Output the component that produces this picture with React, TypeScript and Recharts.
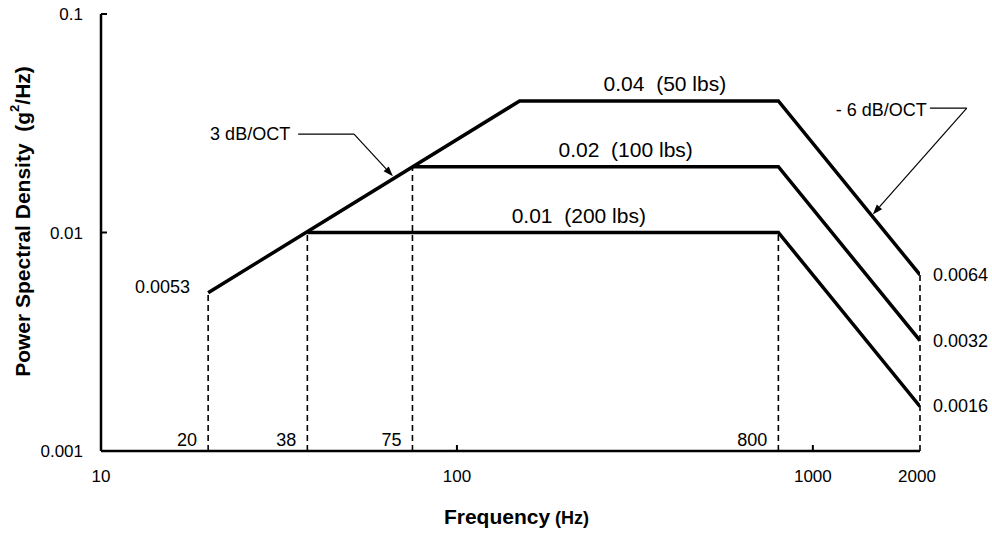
import React from "react";
import { LineChart, Line, XAxis, YAxis, ReferenceLine, ReferenceDot } from "recharts";

const FONT = '"Liberation Sans", Arial, Helvetica, sans-serif';

const xTicks = [10, 100, 1000, 2000];
const yTicks = [0.001, 0.01, 0.1];

// PSD profiles (Hz, g^2/Hz)
const load50 = [
  { f: 20, psd: 0.0053 },
  { f: 150, psd: 0.04 },
  { f: 800, psd: 0.04 },
  { f: 2000, psd: 0.0064 },
];
const load100 = [
  { f: 75, psd: 0.02 },
  { f: 800, psd: 0.02 },
  { f: 2000, psd: 0.0032 },
];
const load200 = [
  { f: 38, psd: 0.01 },
  { f: 800, psd: 0.01 },
  { f: 2000, psd: 0.0016 },
];

// dashed drop lines from the floor up to the curve
const dropLines = [
  { f: 20, psd: 0.0053, text: "20" },
  { f: 38, psd: 0.01, text: "38" },
  { f: 75, psd: 0.02, text: "75" },
  { f: 800, psd: 0.01, text: "800" },
  { f: 2000, psd: 0.0064, text: "" },
];

const levelLabels = [
  { f: 384, psd: 0.04, text: "0.04\u00a0 (50 lbs)" },
  { f: 298, psd: 0.02, text: "0.02\u00a0 (100 lbs)" },
  { f: 220, psd: 0.01, text: "0.01\u00a0 (200 lbs)" },
];
const startLabels = [{ f: 20, psd: 0.0053, text: "0.0053" }];
const endLabels = [
  { f: 2000, psd: 0.0064, text: "0.0064" },
  { f: 2000, psd: 0.0032, text: "0.0032" },
  { f: 2000, psd: 0.0016, text: "0.0016" },
];

// callout leaders: text anchor, elbow, arrow tip
const slopeUp = [
  { f: 35.8, psd: 0.0282 },
  { f: 51.4, psd: 0.0282 },
  { f: 66.1, psd: 0.0181 },
];
const slopeDown = [
  { f: 2132, psd: 0.0371 },
  { f: 2707, psd: 0.0371 },
  { f: 1474, psd: 0.0121 },
];

const DotText = (props: any) => {
  const { viewBox, text, dx = 0, dy = 0, anchor = "middle", size = 18 } = props;
  if (!viewBox) return null;
  return (
    <text
      x={viewBox.x + dx}
      y={viewBox.y + dy}
      textAnchor={anchor}
      fontSize={size}
      fontFamily={FONT}
      fill="#000"
    >
      {text}
    </text>
  );
};

const ArrowShape = (p: any) => {
  const { x1, y1, x2, y2 } = p;
  const a = Math.atan2(y2 - y1, x2 - x1);
  const len = 10;
  const w = 3.5;
  const bx = x2 - len * Math.cos(a);
  const by = y2 - len * Math.sin(a);
  const pts = `${x2},${y2} ${bx + w * Math.sin(a)},${by - w * Math.cos(a)} ${bx - w * Math.sin(a)},${by + w * Math.cos(a)}`;
  return (
    <g>
      <line x1={x1} y1={y1} x2={bx} y2={by} stroke="#000" strokeWidth={1.2} />
      <polygon points={pts} fill="#000" />
    </g>
  );
};

const XTick = (p: any) => {
  const { x, y, payload } = p;
  const v = payload.value;
  const mark = v === 100 || v === 1000;
  return (
    <g>
      {mark && <line x1={x} x2={x} y1={y} y2={y - 6} stroke="#000" strokeWidth={2} />}
      <text x={v === 2000 ? x - 3 : x} y={y + 31} textAnchor="middle" fontSize={17} fontFamily={FONT} fill="#000">
        {v}
      </text>
    </g>
  );
};

const YTick = (p: any) => {
  const { x, y, payload } = p;
  const v = payload.value;
  return (
    <g>
      {v !== 0.001 && <line x1={x} x2={x + 6} y1={y} y2={y} stroke="#000" strokeWidth={2} />}
      <text x={x - 18} y={y + 6} textAnchor="end" fontSize={17} fontFamily={FONT} fill="#000">
        {String(v)}
      </text>
    </g>
  );
};

const XTitle = (props: any) => {
  const { viewBox } = props;
  if (!viewBox) return null;
  return (
    <text
      x={viewBox.x + viewBox.width / 2 + 6}
      y={viewBox.y + 73}
      textAnchor="middle"
      fontFamily={FONT}
      fontWeight="bold"
      fill="#000"
    >
      <tspan fontSize={21}>Frequency</tspan>
      <tspan fontSize={18}> (Hz)</tspan>
    </text>
  );
};

const YTitle = (props: any) => {
  const { viewBox } = props;
  if (!viewBox) return null;
  const cx = viewBox.x + 22;
  const cy = viewBox.y + viewBox.height / 2 - 11;
  return (
    <text
      x={cx}
      y={cy}
      transform={`rotate(-90, ${cx}, ${cy})`}
      textAnchor="middle"
      dominantBaseline="central"
      fontFamily={FONT}
      fontWeight="bold"
      fontSize={21}
      fill="#000"
    >
      Power Spectral Density{"\u00a0 "}(g<tspan baselineShift="super" fontSize={13}>2</tspan>/Hz)
    </text>
  );
};

export default function App() {
  const lineStyle = { stroke: "#000", strokeWidth: 3.5, dot: false, activeDot: false, isAnimationActive: false } as const;
  return (
    <div style={{ position: "absolute", left: 0, top: 0, width: 992, height: 534, overflow: "hidden", background: "#fff" }}>
      <LineChart width={992} height={534} margin={{ top: 14, right: 72, bottom: 0, left: 0 }}>
        <XAxis
          dataKey="f"
          type="number"
          scale="log"
          domain={[10, 2000]}
          allowDataOverflow
          ticks={xTicks}
          tickSize={0}
          tickMargin={0}
          tick={<XTick />}
          axisLine={{ stroke: "#000", strokeWidth: 2.5 }}
          height={83}
          label={<XTitle />}
        />
        <YAxis
          type="number"
          scale="log"
          domain={[0.001, 0.1]}
          allowDataOverflow
          ticks={yTicks}
          tickSize={0}
          tickMargin={0}
          tick={<YTick />}
          axisLine={{ stroke: "#000", strokeWidth: 2.5 }}
          width={101}
          label={<YTitle />}
        />

        {dropLines.map((d) => (
          <ReferenceLine
            key={`drop-${d.f}`}
            segment={[{ x: d.f, y: 0.001 }, { x: d.f, y: d.psd }]}
            stroke="#000"
            strokeWidth={1.6}
            strokeDasharray="6 4"
          />
        ))}
        {dropLines
          .filter((d) => d.text)
          .map((d) => (
            <ReferenceDot
              key={`fl-${d.f}`}
              x={d.f}
              y={0.001}
              r={0}
              fill="none"
              stroke="none"
              label={<DotText text={d.text} dx={-11} dy={-5} anchor="end" />}
            />
          ))}

        <Line data={load50} dataKey="psd" {...lineStyle} />
        <Line data={load100} dataKey="psd" {...lineStyle} />
        <Line data={load200} dataKey="psd" {...lineStyle} />

        {levelLabels.map((d) => (
          <ReferenceDot
            key={`lvl-${d.psd}`}
            x={d.f}
            y={d.psd}
            r={0}
            fill="none"
            stroke="none"
            label={<DotText text={d.text} dy={-10} size={21} />}
          />
        ))}
        {startLabels.map((d) => (
          <ReferenceDot
            key={`st-${d.psd}`}
            x={d.f}
            y={d.psd}
            r={0}
            fill="none"
            stroke="none"
            label={<DotText text={d.text} dx={-18} dy={0} anchor="end" />}
          />
        ))}
        {endLabels.map((d) => (
          <ReferenceDot
            key={`end-${d.psd}`}
            x={d.f}
            y={d.psd}
            r={0}
            fill="none"
            stroke="none"
            ifOverflow="visible"
            label={<DotText text={d.text} dx={13} dy={6} anchor="start" />}
          />
        ))}

        <ReferenceLine
          segment={[{ x: slopeUp[0].f, y: slopeUp[0].psd }, { x: slopeUp[1].f, y: slopeUp[1].psd }]}
          stroke="#000"
          strokeWidth={1.2}
          ifOverflow="visible"
        />
        <ReferenceLine
          segment={[{ x: slopeUp[1].f, y: slopeUp[1].psd }, { x: slopeUp[2].f, y: slopeUp[2].psd }]}
          ifOverflow="visible"
          shape={ArrowShape}
        />
        <ReferenceDot
          x={slopeUp[0].f}
          y={slopeUp[0].psd}
          r={0}
          fill="none"
          stroke="none"
          ifOverflow="visible"
          label={<DotText text="3 dB/OCT" dx={-8} dy={6} anchor="end" />}
        />

        <ReferenceLine
          segment={[{ x: slopeDown[0].f, y: slopeDown[0].psd }, { x: slopeDown[1].f, y: slopeDown[1].psd }]}
          stroke="#000"
          strokeWidth={1.2}
          ifOverflow="visible"
        />
        <ReferenceLine
          segment={[{ x: slopeDown[1].f, y: slopeDown[1].psd }, { x: slopeDown[2].f, y: slopeDown[2].psd }]}
          ifOverflow="visible"
          shape={ArrowShape}
        />
        <ReferenceDot
          x={slopeDown[0].f}
          y={slopeDown[0].psd}
          r={0}
          fill="none"
          stroke="none"
          ifOverflow="visible"
          label={<DotText text="- 6 dB/OCT" dx={-3} dy={8} anchor="end" />}
        />
      </LineChart>
    </div>
  );
}
